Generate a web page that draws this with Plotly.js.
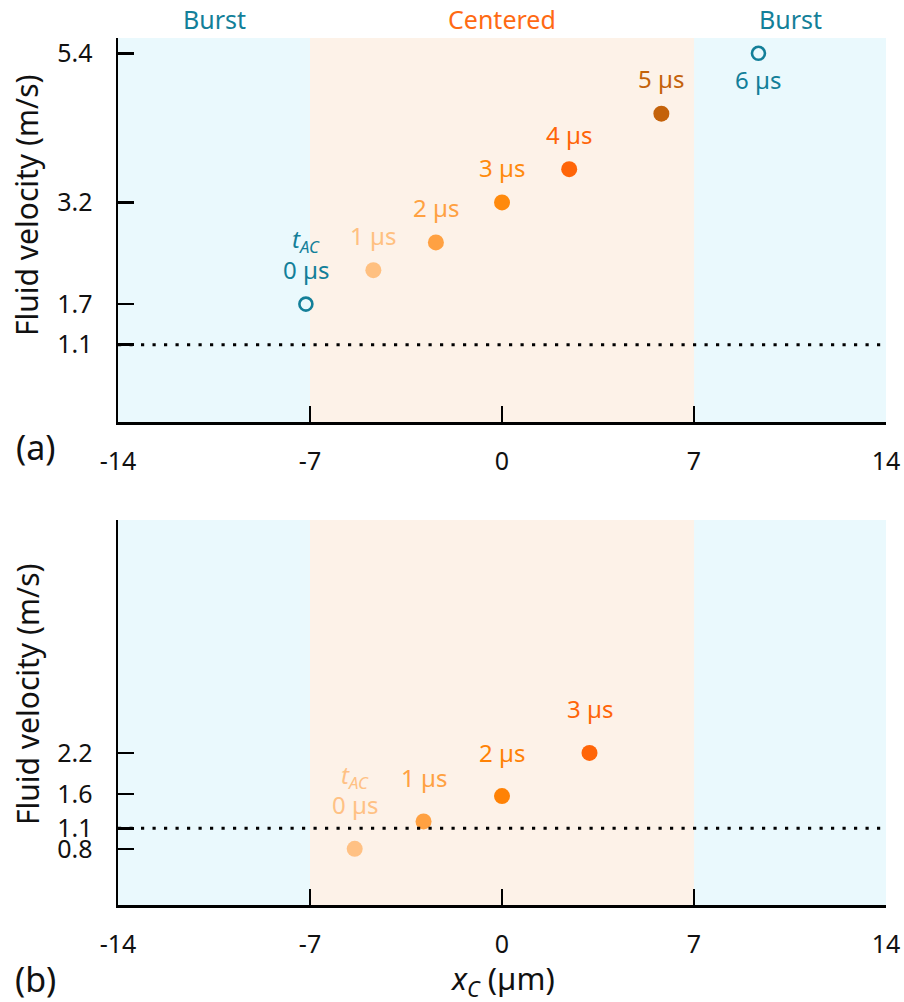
<!DOCTYPE html>
<html>
<head>
<meta charset="utf-8">
<script src="https://cdn.plot.ly/plotly-3.0.1.min.js"></script>
<style>html,body{margin:0;padding:0;background:#fff;}#chart{width:904px;height:1002px;}</style>
</head>
<body>
<div id="chart"></div>
<script>
// ---------- data ----------
const thresholdVelocity = 1.1;              // dotted reference line (m/s)
const xTicks = [-14, -7, 0, 7, 14];
const regionNames = ['Burst', 'Centered', 'Burst'];
const regionEdges = [-14, -7, 7, 14];

// panel (a)
const aTimes = ['0 µs', '1 µs', '2 µs', '3 µs', '4 µs', '5 µs', '6 µs'];
const aX = [-7.15, -4.69, -2.41, 0.0, 2.45, 5.81, 9.35];
const aY = [1.7, 2.2, 2.61, 3.2, 3.69, 4.51, 5.4];
const aBurst = [true, false, false, false, false, false, true];
const aYTicks = [1.1, 1.7, 3.2, 5.4];

// panel (b)
const bTimes = ['0 µs', '1 µs', '2 µs', '3 µs'];
const bX = [-5.37, -2.86, 0.0, 3.19];
const bY = [0.8, 1.2, 1.57, 2.2];
const bYTicks = [0.8, 1.1, 1.6, 2.2];

// ---------- styles ----------
const TEAL = '#137f99';
const aColors = [TEAL, '#ffc080', '#ffa142', '#ff8a0d', '#ff6508', '#c4620a', TEAL];
const bColors = ['#ffc184', '#ffa142', '#ff8205', '#ff6508'];
const regionFill = ['#eaf9fd', '#fdf2e8', '#eaf9fd'];
const regionText = [TEAL, '#ff6a13', TEAL];
const FONT = 'Noto Sans, Open Sans, sans-serif';

const W = 904, H = 1002, L = 118, R = 18;
const PW = W - L - R;
const px = x => (x - L) / PW;
const py = y => 1 - y / H;

const traces = [];
function addPanel(xs, ys, colors, burst, xa, ya) {
  const fx = [], fy = [], fc = [], ox = [], oy = [], oc = [];
  xs.forEach((x, i) => {
    if (burst && burst[i]) { ox.push(x); oy.push(ys[i]); oc.push(colors[i]); }
    else { fx.push(x); fy.push(ys[i]); fc.push(colors[i]); }
  });
  traces.push({type: 'scatter', mode: 'markers', x: fx, y: fy, xaxis: xa, yaxis: ya,
    marker: {size: 16, color: fc, line: {width: 0}}, hoverinfo: 'x+y', showlegend: false, cliponaxis: false});
  if (ox.length) traces.push({type: 'scatter', mode: 'markers', x: ox, y: oy, xaxis: xa, yaxis: ya,
    marker: {size: 13, symbol: 'circle-open', color: oc, line: {width: 2.6, color: oc}}, hoverinfo: 'x+y', showlegend: false, cliponaxis: false});
}
addPanel(aX, aY, aColors, aBurst, 'x', 'y');
addPanel(bX, bY, bColors, null, 'x2', 'y2');

const shapes = [];
['', '2'].forEach(s => {
  for (let i = 0; i < regionNames.length; i++) {
    shapes.push({type: 'rect', xref: 'x' + s, yref: 'y' + s + ' domain', x0: regionEdges[i], x1: regionEdges[i + 1], y0: 0, y1: 1,
      fillcolor: regionFill[i], line: {width: 0}, layer: 'below'});
  }
  shapes.push({type: 'line', xref: 'x' + s + ' domain', yref: 'y' + s, x0: 0, x1: 1, y0: thresholdVelocity, y1: thresholdVelocity,
    line: {color: '#000', width: 3.2, dash: '3.2px,8.3px'}, layer: 'above'});
});

const annotations = [];
// region headers
for (let i = 0; i < regionNames.length; i++) {
  annotations.push({xref: 'x', yref: 'paper', x: (regionEdges[i] + regionEdges[i + 1]) / 2, y: py(19),
    text: regionNames[i], showarrow: false, font: {family: FONT, size: 25, color: regionText[i]}, yanchor: 'middle'});
}
// point labels
function labels(times, xs, ys, colors, xa, ya, up, belowIdx) {
  times.forEach((t, i) => {
    const below = belowIdx.includes(i);
    annotations.push({xref: xa, yref: ya, x: xs[i], y: ys[i], text: t, showarrow: false,
      yshift: below ? -26 : up, yanchor: 'middle', font: {family: FONT, size: 24, color: colors[i]}});
    if (i === 0) {
      annotations.push({xref: xa, yref: ya, x: xs[i], y: ys[i], text: '<i>t</i><sub><i>AC</i></sub>', showarrow: false,
        yshift: up + 29, yanchor: 'middle', font: {family: FONT, size: 24, color: colors[i]}});
    }
  });
}
labels(aTimes, aX, aY, aColors, 'x', 'y', 35, [6]);
labels(bTimes, bX, bY, bColors, 'x2', 'y2', 44, []);

// y-axis titles
[[205], [694]].forEach(([cy]) => {
  annotations.push({xref: 'paper', yref: 'paper', x: px(27), y: py(cy), text: 'Fluid velocity (m/s)', textangle: -90,
    showarrow: false, xanchor: 'center', yanchor: 'middle', font: {family: FONT, size: 30, color: '#111'}});
});
// panel letters
annotations.push({xref: 'paper', yref: 'paper', x: px(35), y: py(447), text: '(a)', showarrow: false,
  xanchor: 'center', yanchor: 'middle', font: {family: FONT, size: 34, color: '#111'}});
annotations.push({xref: 'paper', yref: 'paper', x: px(35), y: py(979), text: '(b)', showarrow: false,
  xanchor: 'center', yanchor: 'middle', font: {family: FONT, size: 34, color: '#111'}});
// x-axis title
annotations.push({xref: 'paper', yref: 'paper', x: px(502), y: py(980), text: '<i>x</i><sub><i>C</i></sub> (µm)', showarrow: false,
  xanchor: 'center', yanchor: 'middle', font: {family: FONT, size: 31, color: '#111'}});

function xAxis(anchor) {
  return {domain: [0, 1], anchor: anchor, range: [-14, 14], tickvals: xTicks, ticktext: xTicks.map(String),
    ticks: 'inside', ticklen: 16, tickwidth: 2.5, tickcolor: '#000', showline: true, linewidth: 2.5, linecolor: '#000',
    showgrid: false, zeroline: false, ticklabelstandoff: 15, tickfont: {family: FONT, size: 25, color: '#111'}, fixedrange: true};
}
function yAxis(anchor, domain, range, ticks) {
  return {domain: domain, anchor: anchor, range: range, tickvals: ticks, ticktext: ticks.map(v => v.toFixed(1)),
    ticks: 'inside', ticklen: 16, tickwidth: 2.5, tickcolor: '#000', showline: true, linewidth: 2.5, linecolor: '#000',
    showgrid: false, zeroline: false, ticklabelstandoff: 18, tickfont: {family: FONT, size: 25, color: '#111'}, fixedrange: true};
}

const layout = {
  width: W, height: H,
  margin: {l: L, r: R, t: 0, b: 0},
  paper_bgcolor: '#fff', plot_bgcolor: 'rgba(0,0,0,0)',
  showlegend: false,
  font: {family: FONT},
  xaxis: xAxis('y'),
  yaxis: yAxis('x', [py(422), py(38)], [-0.04, 5.626], aYTicks),
  xaxis2: xAxis('y2'),
  yaxis2: yAxis('x2', [py(905), py(520)], [-0.02, 5.6], bYTicks),
  shapes: shapes,
  annotations: annotations
};

Plotly.newPlot('chart', traces, layout, {displayModeBar: false, staticPlot: true});
</script>
</body>
</html>
